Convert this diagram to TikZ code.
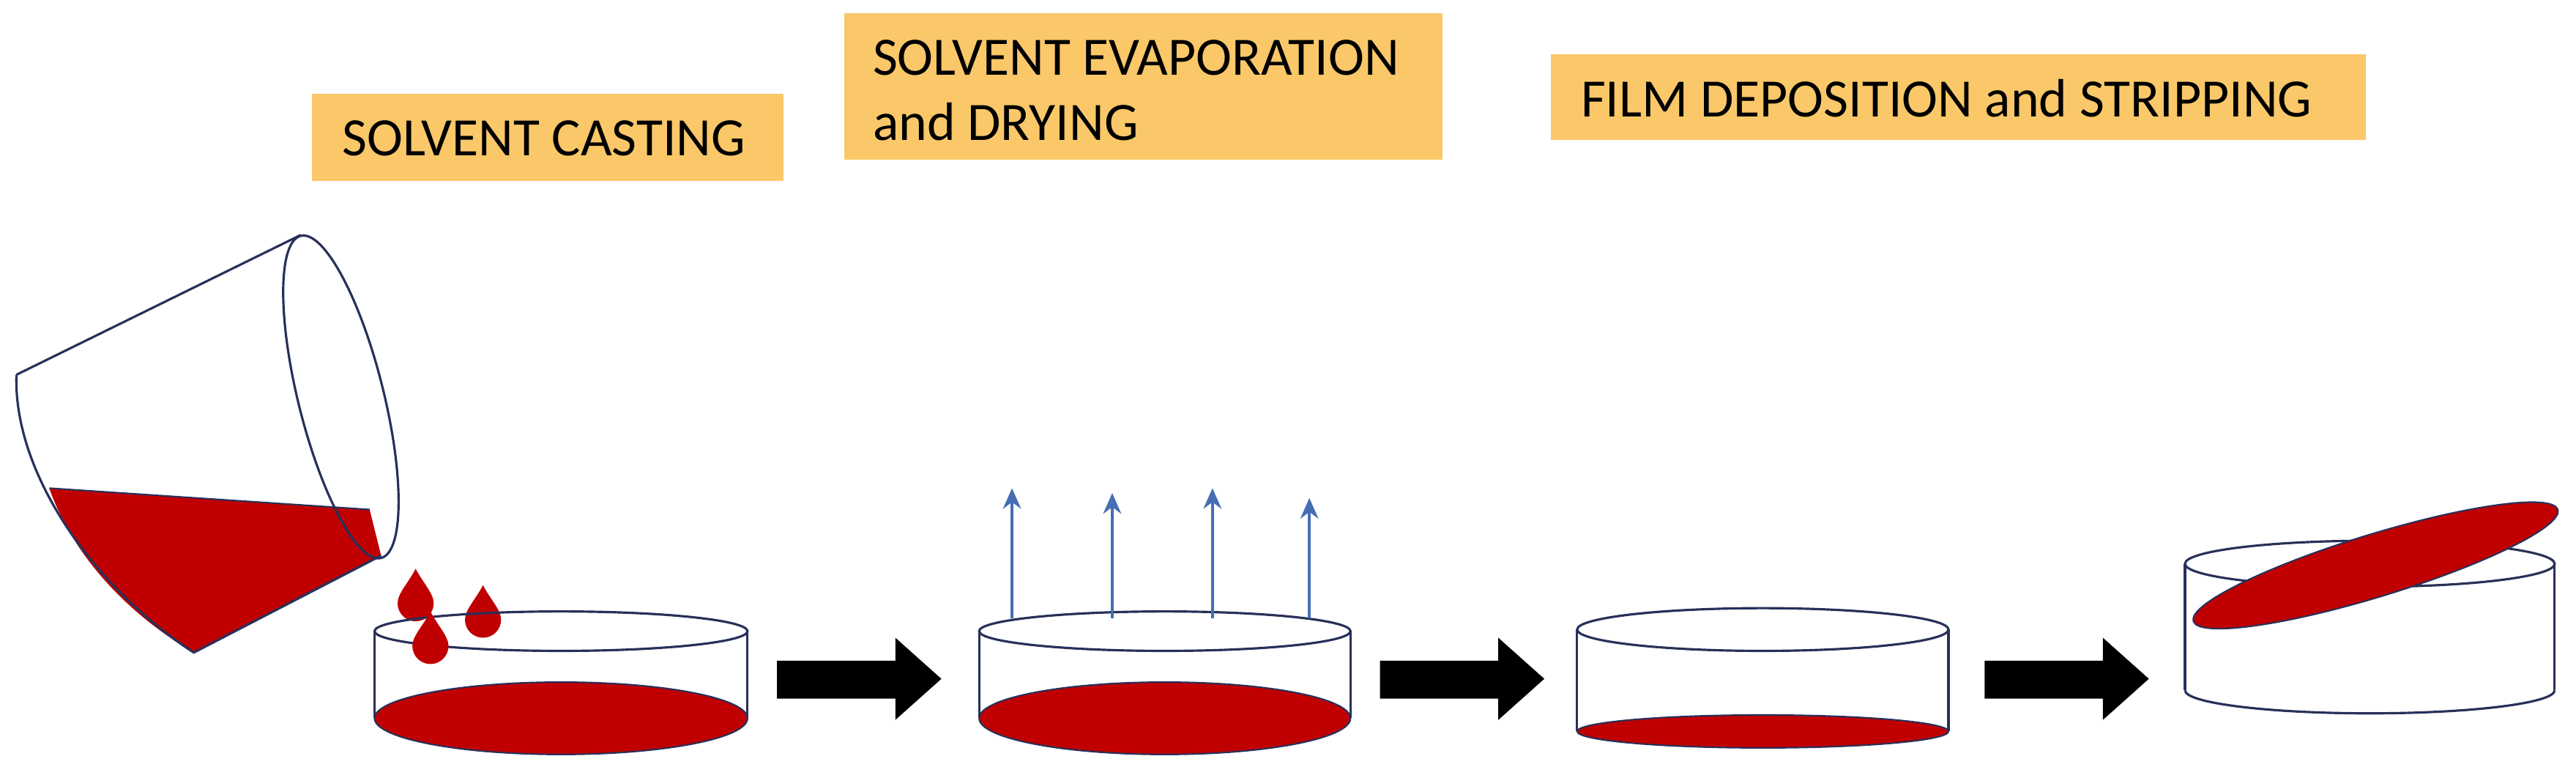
\documentclass[tikz,border=0pt]{standalone}
\usepackage{fontspec}
\setmainfont{Carlito}
\usetikzlibrary{arrows.meta}
\definecolor{lbl}{RGB}{250,200,105}
\definecolor{ink}{RGB}{40,48,90}
\definecolor{liq}{RGB}{192,0,0}
\definecolor{vap}{RGB}{70,110,180}
\tikzset{
 lblbox/.style={fill=lbl,draw=none},
 lbltext/.style={anchor=west,font=\fontsize{21}{25.5}\selectfont,align=left,inner sep=0},
 glass/.style={draw=ink,line width=0.9pt},
 liquid/.style={fill=liq,draw=ink,line width=0.6pt},
 vapor/.style={draw=vap,line width=1.1pt,-{Stealth[length=8pt,width=7pt]}},
 blockarrow/.style={fill=black,draw=none},
}
\newcommand\mydrop[2]{\fill[liq] (#1,#2+16) .. controls (#1+4,#2+8) and (#1+11,#2+1) .. (#1+11,#2-5)
  arc[start angle=0,end angle=-180,radius=11] .. controls (#1-11,#2+1) and (#1-4,#2+8) .. cycle;}
\begin{document}
\begin{tikzpicture}[x=0.02244cm,y=0.02244cm]
\useasboundingbox (0,0) rectangle (1568,-473);
% labels
\fill[lblbox] (190,-57) rectangle (477,-110);
\node[lbltext] (l1) at (208,-84) {SOLVENT CASTING};
\fill[lblbox] (514,-8) rectangle (878,-97);
\node[lbltext] (l2) at (531,-55) {SOLVENT EVAPORATION\\and DRYING};
\fill[lblbox] (944,-33) rectangle (1440,-85);
\node[lbltext] (l3) at (962,-60) {FILM DEPOSITION and STRIPPING};
% beaker
\fill[liq] (30,-297) .. controls (45,-340) and (80,-375) .. (118,-397) -- (232,-338) -- (225,-310) -- cycle;
\draw[glass] (10,-228) -- (183,-143);
\draw[glass] (10,-228) .. controls (8,-290) and (60,-360) .. (118,-397) -- (232,-338);
\draw[glass] (207.5,-241.5) ellipse [x radius=101,y radius=26,rotate=-76];
\draw[ink,line width=0.6pt] (30,-297) -- (225,-310);
% drops
\mydrop{253}{-362}
\mydrop{294}{-372}
% dish 1
\draw[glass] (228,-384) -- (228,-437) (455,-384) -- (455,-437);
\draw[liquid] (341.5,-437) ellipse [x radius=113.5,y radius=22];
\draw[glass] (341.5,-384) ellipse [x radius=113.5,y radius=12];
\mydrop{262}{-388}
% dish 2
\draw[glass] (596,-384) -- (596,-437) (822,-384) -- (822,-437);
\draw[liquid] (709,-437) ellipse [x radius=113,y radius=22];
\draw[glass] (709,-384) ellipse [x radius=113,y radius=12];
\foreach \vx/\vt in {616/297,677/300,738/297,797/303}{
 \draw[vapor] (\vx,-376) -- (\vx,-\vt);
}
% dish 3
\draw[glass] (960,-383) -- (960,-445) (1186,-383) -- (1186,-445);
\draw[liquid] (1073,-445) ellipse [x radius=113,y radius=10];
\draw[glass] (1073,-383) ellipse [x radius=113,y radius=13];
% dish 4
\draw[glass] (1330,-343) -- (1330,-420) (1555,-343) -- (1555,-420);
\draw[glass] (1330,-420) arc[start angle=180,end angle=360,x radius=112.5,y radius=14];
\draw[glass] (1442.5,-343) ellipse [x radius=112.5,y radius=14];
\draw[liquid] (1446,-344) ellipse [x radius=116,y radius=19,rotate=17];
% block arrows
\foreach \ax in {473,840,1208}{
 \fill[blockarrow] (\ax,-402) -- (\ax+72,-402) -- (\ax+72,-388) -- (\ax+100,-413) -- (\ax+72,-438) -- (\ax+72,-425) -- (\ax,-425) -- cycle;
}
\end{tikzpicture}
\end{document}
